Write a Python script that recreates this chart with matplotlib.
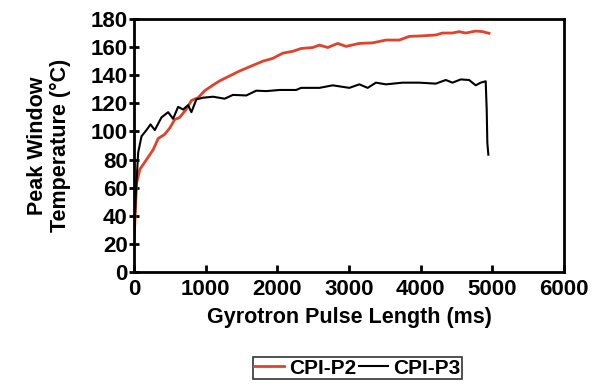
import matplotlib
matplotlib.use("Agg")
import matplotlib.pyplot as plt

# CPI-P2 (red)
p2_ms = [0, 37, 83, 176, 269, 339, 431, 501, 570, 640, 733, 802, 895, 988, 1104,
         1197, 1336, 1475, 1614, 1800, 1939, 2078, 2217, 2333, 2495, 2588, 2704,
         2843, 2959, 3145, 3330, 3516, 3701, 3840, 4026, 4211, 4304, 4443, 4536,
         4629, 4768, 4861, 4953]
p2_temp = [19, 63, 73, 80, 87, 95, 98, 102.5, 108.5, 110, 116, 122, 124, 129, 133,
           136, 139.5, 143, 146, 150, 152, 155.7, 157, 159, 159.7, 161.4, 159.7,
           162.6, 160.5, 162.6, 163, 165, 165, 167.6, 168, 168.6, 170, 170, 171,
           170, 171.4, 171, 169.8]

# CPI-P3 (black)
p3_ms = [0, 28, 60, 107, 176, 232, 292, 385, 478, 547, 617, 686, 756, 802, 872,
         964, 1104, 1266, 1382, 1568, 1707, 1846, 2032, 2263, 2333, 2588, 2773,
         3005, 3145, 3261, 3376, 3516, 3748, 3980, 4211, 4350, 4443, 4559, 4675,
         4768, 4837, 4907, 4921, 4930, 4944]
p3_temp = [20, 56, 85, 96.6, 101, 105, 101, 110, 113.7, 109, 117.5, 115.6, 118.7,
           113.7, 122.8, 124, 124.7, 123.3, 126, 125.6, 129, 128.7, 129.5, 129.5,
           131, 131, 132.8, 131, 133.5, 131, 134.7, 133.5, 134.7, 134.7, 134,
           136.6, 134.7, 137, 136.6, 132.8, 134.7, 135.7, 115.6, 91.8, 83.5]

plt.rcParams['font.family'] = ['Liberation Sans', 'DejaVu Sans']
plt.rcParams['font.weight'] = 'bold'

fig = plt.figure(figsize=(5.95, 3.87), dpi=100)
ax = fig.add_axes([0.225, 0.297, 0.723, 0.654])

ax.plot(p2_ms, p2_temp, color='#e0432b', lw=2.0, label='CPI-P2')
ax.plot(p3_ms, p3_temp, color='black', lw=1.5, label='CPI-P3')

ax.set_xlim(0, 6000)
ax.set_ylim(0, 180)
ax.set_xticks(range(0, 6001, 1000))
ax.set_yticks(range(0, 181, 20))
for s in ax.spines.values():
    s.set_linewidth(2)
ax.tick_params(axis='x', direction='in', length=5, width=2, labelsize=16, pad=5)
ax.tick_params(axis='y', direction='inout', length=7, width=2, labelsize=16, pad=1)

ax.set_xlabel('Gyrotron Pulse Length (ms)', fontsize=15.5, fontweight='bold', labelpad=5)
ax.set_ylabel('Peak Window\nTemperature (°C)', fontsize=15.5, fontweight='bold', labelpad=14,
              linespacing=1.1)

leg = ax.legend(loc='upper center', bbox_to_anchor=(0.52, -0.335), ncol=2,
                fontsize=15, frameon=True, fancybox=False, handlelength=1.4,
                handletextpad=0.25, columnspacing=0.15, borderpad=0.08,
                borderaxespad=0)
leg.get_frame().set_edgecolor('black')
leg.get_frame().set_linewidth(1.2)

fig.savefig('out.png', dpi=100)
